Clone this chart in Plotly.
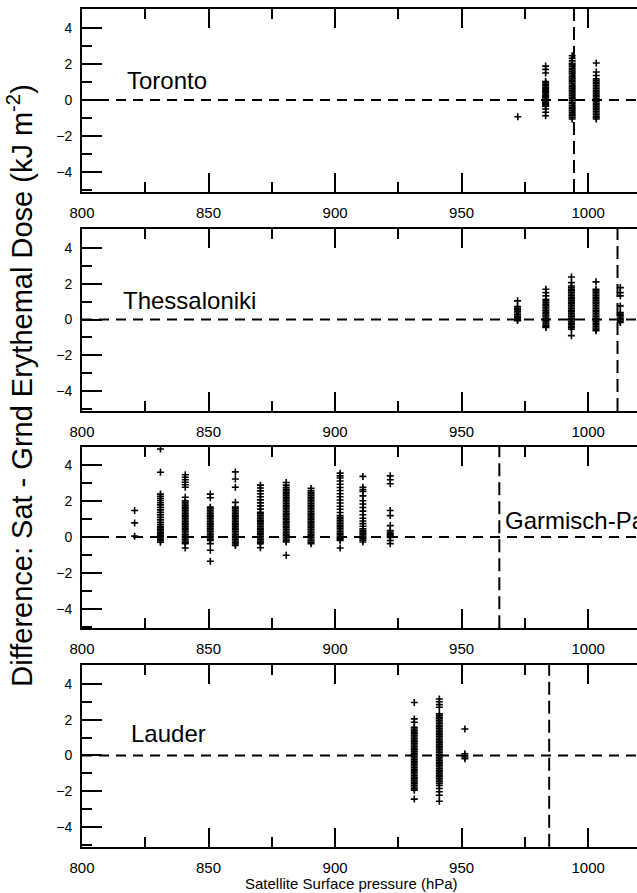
import plotly.graph_objects as go

# Station names, station (ground) surface pressure in hPa
stations = ["Toronto", "Thessaloniki", "Garmisch-Partenkirchen", "Lauder"]
station_pressure = [994.4, 1011.6, 964.9, 984.6]

# Satellite surface-pressure bins (hPa) and the Sat - Grnd dose differences (kJ m-2) in each bin
toronto_bins = [972.2, 983.2, 993.7, 1003.2]
toronto_diff = [
    [-0.93],
    [1.88, 1.7, 1.5, 1.02, 0.94, 0.87, 0.79, 0.71, 0.64, 0.56, 0.49, 0.41, 0.33, 0.26, 0.18, 0.11,
     0.03, -0.05, -0.12, -0.2, -0.27, -0.34, -0.5, -0.68, -0.87],
    [2.45, 2.31, 2.17, 2.04, 1.95, 1.86, 1.76, 1.67, 1.57, 1.48, 1.39, 1.29, 1.2, 1.1, 1.01, 0.92,
     0.82, 0.73, 0.63, 0.54, 0.45, 0.35, 0.26, 0.16, 0.07, -0.02, -0.12, -0.21, -0.31, -0.4, -0.49,
     -0.59, -0.68, -0.78, -0.87, -0.96, -1.05],
    [2.05, 1.55, 1.36, 1.17, 1.08, 0.99, 0.9, 0.81, 0.72, 0.63, 0.54, 0.45, 0.36, 0.27, 0.18, 0.09,
     0.0, -0.09, -0.18, -0.27, -0.36, -0.45, -0.54, -0.63, -0.72, -0.81, -0.9, -0.98, -1.05],
]

thess_bins = [972.1, 983.3, 993.4, 1003.1, 1012.7]
thess_diff = [
    [1.04, 0.72, 0.63, 0.54, 0.45, 0.36, 0.27, 0.18, 0.09, 0.01, -0.06],
    [1.69, 1.5, 1.32, 1.13, 1.04, 0.95, 0.86, 0.77, 0.68, 0.59, 0.5, 0.41, 0.32, 0.23, 0.14, 0.05,
     -0.04, -0.13, -0.22, -0.31, -0.38, -0.44],
    [2.37, 2.06, 1.87, 1.78, 1.69, 1.6, 1.51, 1.42, 1.33, 1.24, 1.15, 1.06, 0.97, 0.88, 0.79, 0.7,
     0.61, 0.52, 0.43, 0.34, 0.25, 0.16, 0.07, -0.02, -0.11, -0.2, -0.29, -0.38, -0.46, -0.54, -0.9],
    [2.1, 1.69, 1.6, 1.51, 1.42, 1.33, 1.24, 1.15, 1.06, 0.97, 0.88, 0.79, 0.7, 0.61, 0.52, 0.43,
     0.34, 0.25, 0.16, 0.07, -0.02, -0.11, -0.2, -0.29, -0.38, -0.47, -0.55, -0.63],
    [1.78, 1.5, 1.32, 0.76, 0.39, 0.3, 0.22, 0.14, 0.06, -0.02, -0.1, -0.17],
]

garm_bins = [820.8, 831.0, 840.8, 850.7, 860.6, 870.5, 880.7, 890.5, 902.0, 911.0, 921.8]
garm_diff = [
    [1.48, 0.79, 0.05],
    [4.92, 3.62, 2.4, 2.28, 2.16, 2.04, 1.92, 1.8, 1.66, 1.52, 1.38, 1.24, 1.1, 0.96, 0.82, 0.7,
     0.6, 0.51, 0.43, 0.35, 0.27, 0.19, 0.11, 0.03, -0.05, -0.13, -0.21, -0.29],
    [3.48, 3.34, 3.2, 3.06, 2.92, 2.78, 2.22, 2.03, 1.94, 1.85, 1.76, 1.67, 1.58, 1.49, 1.4, 1.31,
     1.22, 1.13, 1.04, 0.95, 0.86, 0.77, 0.68, 0.59, 0.5, 0.41, 0.32, 0.23, 0.14, 0.05, -0.04,
     -0.13, -0.22, -0.3, -0.37, -0.61],
    [2.4, 2.2, 1.67, 1.58, 1.49, 1.4, 1.31, 1.22, 1.13, 1.04, 0.95, 0.86, 0.77, 0.68, 0.59, 0.5,
     0.41, 0.32, 0.23, 0.14, 0.05, -0.04, -0.12, -0.19, -0.37, -0.74, -1.35],
    [3.64, 3.24, 2.78, 1.94, 1.67, 1.58, 1.49, 1.4, 1.31, 1.22, 1.13, 1.04, 0.95, 0.86, 0.77, 0.68,
     0.59, 0.5, 0.41, 0.32, 0.23, 0.14, 0.05, -0.04, -0.13, -0.22, -0.31, -0.39, -0.47],
    [2.9, 2.74, 2.58, 2.42, 2.25, 2.08, 1.91, 1.74, 1.56, 1.39, 1.3, 1.21, 1.12, 1.03, 0.94, 0.85,
     0.76, 0.67, 0.58, 0.49, 0.4, 0.31, 0.22, 0.13, 0.04, -0.05, -0.14, -0.22, -0.3, -0.37, -0.6],
    [3.05, 2.9, 2.78, 2.68, 2.59, 2.5, 2.41, 2.32, 2.23, 2.14, 2.05, 1.96, 1.87, 1.78, 1.69, 1.6,
     1.51, 1.42, 1.33, 1.24, 1.15, 1.06, 0.97, 0.88, 0.79, 0.7, 0.61, 0.52, 0.43, 0.34, 0.25, 0.16,
     0.07, -0.02, -0.11, -0.2, -0.28, -1.02],
    [2.72, 2.59, 2.5, 2.41, 2.32, 2.23, 2.14, 2.05, 1.96, 1.87, 1.78, 1.69, 1.6, 1.51, 1.42, 1.33,
     1.24, 1.15, 1.06, 0.97, 0.88, 0.79, 0.7, 0.61, 0.52, 0.43, 0.34, 0.25, 0.16, 0.07, -0.02,
     -0.11, -0.2, -0.29, -0.37],
    [3.57, 3.42, 3.3, 3.13, 2.95, 2.77, 2.6, 2.42, 2.25, 2.07, 1.9, 1.72, 1.55, 1.37, 1.2, 1.11,
     1.02, 0.93, 0.84, 0.75, 0.66, 0.57, 0.48, 0.39, 0.3, 0.21, 0.12, 0.03, -0.06, -0.13, -0.19,
     -0.61],
    [3.39, 2.78, 2.66, 2.55, 2.3, 2.03, 1.85, 1.65, 1.45, 1.25, 1.05, 0.9, 0.75, 0.6, 0.46, 0.38,
     0.3, 0.22, 0.14, 0.06, -0.02, -0.1, -0.18, -0.28],
    [3.42, 3.2, 2.98, 1.48, 1.2, 0.64, 0.37, 0.28, 0.2, 0.12, 0.05, -0.02, -0.19, -0.37],
]

lauder_bins = [931.3, 941.2, 951.3]
lauder_diff = [
    [2.96, 2.04, 1.85, 1.57, 1.48, 1.39, 1.3, 1.21, 1.12, 1.03, 0.94, 0.85, 0.76, 0.67, 0.58, 0.49,
     0.4, 0.31, 0.22, 0.13, 0.04, -0.05, -0.14, -0.23, -0.32, -0.41, -0.5, -0.59, -0.68, -0.77,
     -0.86, -0.95, -1.04, -1.13, -1.22, -1.31, -1.4, -1.49, -1.58, -1.67, -1.76, -1.85, -1.94,
     -2.44],
    [3.15, 3.0, 2.84, 2.69, 2.32, 2.23, 2.14, 2.05, 1.96, 1.87, 1.78, 1.69, 1.6, 1.51, 1.42, 1.33,
     1.24, 1.15, 1.06, 0.97, 0.88, 0.79, 0.7, 0.61, 0.52, 0.43, 0.34, 0.25, 0.16, 0.07, -0.02,
     -0.11, -0.2, -0.29, -0.38, -0.47, -0.56, -0.65, -0.74, -0.83, -0.92, -1.01, -1.1, -1.19,
     -1.28, -1.37, -1.46, -1.55, -1.67, -1.85, -2.03, -2.22, -2.56],
    [1.48, 0.09, 0.0, -0.09, -0.18],
]

# Label anchor (pressure, difference) for each station name
label_x = [816.9, 815.6, 966.2, 818.6]
label_y = [1.07, 1.04, 0.92, 1.2]

x_ticks = [800, 850, 900, 950, 1000]
y_ticks = [-4, -2, 0, 2, 4]

FONT = "Liberation Sans, Arial, Helvetica, sans-serif"
X_RANGE = [800, 1019.3]
Y_RANGE = [-5.1, 5.05]
domains = [(0.785, 0.990), (0.5398, 0.7436), (0.2964, 0.4998), (0.0518, 0.2553)]

all_bins = [toronto_bins, thess_bins, garm_bins, lauder_bins]
all_diff = [toronto_diff, thess_diff, garm_diff, lauder_diff]

fig = go.Figure()
shapes = []
annotations = []

for i in range(4):
    n = "" if i == 0 else str(i + 1)
    xa, ya = "x" + n, "y" + n
    xs, ys = [], []
    for p, vals in zip(all_bins[i], all_diff[i]):
        xs.extend([p] * len(vals))
        ys.extend(vals)
    fig.add_trace(go.Scatter(
        x=xs, y=ys, xaxis=xa, yaxis=ya, mode="markers",
        marker=dict(symbol="cross-thin", size=5, color="black",
                    line=dict(color="black", width=1.6)),
        showlegend=False, hoverinfo="x+y",
    ))

    # zero-difference line and the station's own surface pressure
    shapes.append(dict(type="line", xref=xa + " domain", yref=ya, x0=0, x1=1, y0=0, y1=0,
                       line=dict(color="black", width=2, dash="10px,7px"), layer="above"))
    shapes.append(dict(type="line", xref=xa, yref=ya + " domain",
                       x0=station_pressure[i], x1=station_pressure[i], y0=0, y1=1,
                       line=dict(color="black", width=2, dash="13px,6px"), layer="above"))

    annotations.append(dict(text=stations[i], x=label_x[i], y=label_y[i], xref=xa, yref=ya,
                            xanchor="left", yanchor="middle", showarrow=False,
                            font=dict(family=FONT, size=24, color="black")))

    axis_common = dict(showline=True, linecolor="black", linewidth=2, showgrid=False,
                       zeroline=False, ticks="inside", tickcolor="black", tickwidth=2)
    fig.layout["xaxis" + n] = dict(
        **axis_common, anchor=ya, domain=[0, 1], range=X_RANGE, mirror="ticks",
        tickvals=x_ticks, ticklen=19, ticklabelstandoff=6,
        minor=dict(dtick=25, tick0=800, ticklen=10, tickwidth=2, tickcolor="black",
                   ticks="inside"),
        tickfont=dict(family=FONT, size=15, color="black"),
    )
    fig.layout["yaxis" + n] = dict(
        **axis_common, anchor=xa, domain=list(domains[i]), range=Y_RANGE,
        tickvals=y_ticks, ticklen=20, ticklabelstandoff=5,
        minor=dict(dtick=1, tick0=0, ticklen=10, tickwidth=2, tickcolor="black",
                   ticks="inside"),
        tickfont=dict(family=FONT, size=14, color="black"),
    )

annotations.append(dict(
    text="Difference: Sat - Grnd Erythemal Dose (kJ m<sup>-2</sup>)",
    xref="paper", yref="paper", x=-0.112, y=0.569, textangle=-90,
    xanchor="center", yanchor="middle", showarrow=False,
    font=dict(family=FONT, size=29, color="black")))
annotations.append(dict(
    text="Satellite Surface pressure (hPa)",
    xref="paper", yref="paper", x=0.485, y=1 - 883 / 893,
    xanchor="center", yanchor="middle", showarrow=False,
    font=dict(family=FONT, size=15, color="black")))

fig.update_layout(
    width=637, height=893,
    margin=dict(l=82, r=0, t=0, b=0),
    paper_bgcolor="white", plot_bgcolor="white",
    shapes=shapes, annotations=annotations,
    font=dict(family=FONT, color="black"),
)

fig.write_html("out.html")
